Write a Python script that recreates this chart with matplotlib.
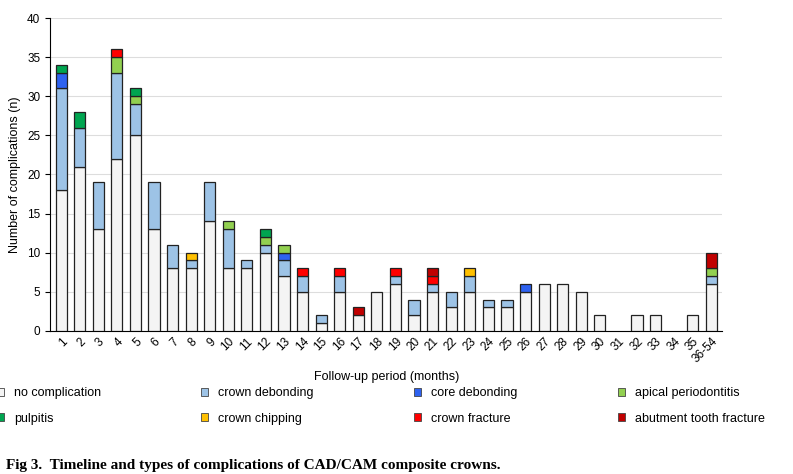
import matplotlib.pyplot as plt
import numpy as np

plt.rcParams['font.family'] = ['Liberation Sans', 'DejaVu Sans']

months = [str(i) for i in range(1, 36)] + ['36-54']
no_comp = [18, 21, 13, 22, 25, 13, 8, 8, 14, 8, 8, 10, 7, 5, 1, 5, 2, 5, 6, 2, 5, 3, 5, 3, 3, 5, 6, 6, 5, 2, 0, 2, 2, 0, 2, 6]
crown_debond = [13, 5, 6, 11, 4, 6, 3, 1, 5, 5, 1, 1, 2, 2, 1, 2, 0, 0, 1, 2, 1, 2, 2, 1, 1, 0, 0, 0, 0, 0, 0, 0, 0, 0, 0, 1]
core_debond = [0] * 36
core_debond[0] = 2; core_debond[12] = 1; core_debond[25] = 1
apical = [0] * 36
apical[3] = 2; apical[4] = 1; apical[9] = 1; apical[11] = 1; apical[12] = 1; apical[35] = 1
pulpitis = [0] * 36
pulpitis[0] = 1; pulpitis[1] = 2; pulpitis[4] = 1; pulpitis[11] = 1
chipping = [0] * 36
chipping[7] = 1; chipping[22] = 1
crown_fracture = [0] * 36
for i in [3, 13, 15, 18, 20]:
    crown_fracture[i] = 1
abutment = [0] * 36
abutment[16] = 1; abutment[20] = 1; abutment[35] = 2

series = [
    ('no complication', no_comp, '#f4f4f4'),
    ('crown debonding', crown_debond, '#9dc3e6'),
    ('core debonding', core_debond, '#2e62f0'),
    ('apical periodontitis', apical, '#92d050'),
    ('pulpitis', pulpitis, '#00a550'),
    ('crown chipping', chipping, '#ffc000'),
    ('crown fracture', crown_fracture, '#ff0000'),
    ('abutment tooth fracture', abutment, '#c00000'),
]

fig = plt.figure(figsize=(7.93, 4.74), dpi=100)
ax = fig.add_axes([0.063, 0.302, 0.848, 0.66])
x = np.arange(len(months))
bottom = np.zeros(len(months))
handles = []
for name, vals, col in series:
    v = np.array(vals, dtype=float)
    m = v > 0
    ax.bar(x[m], v[m], 0.6, bottom=bottom[m], color=col, edgecolor='#222222', linewidth=0.9, zorder=3)
    handles.append(plt.Rectangle((0, 0), 1, 1, facecolor=col, edgecolor='#444444', linewidth=0.6, label=name))
    bottom += v

ax.set_ylim(0, 40)
ax.set_xlim(-0.6, len(months) - 0.4)
ax.set_yticks(range(0, 41, 5))
ax.yaxis.grid(True, color='#dddddd', linewidth=0.8, zorder=0)
ax.set_xticks(x)
ax.set_xticklabels(months, rotation=45, ha='right', rotation_mode='anchor', fontsize=8.5)
ax.tick_params(axis='y', labelsize=8.5)
ax.tick_params(axis='x', length=0)
ax.spines['top'].set_visible(False)
ax.spines['right'].set_visible(False)
ax.set_ylabel('Number of complications (n)', fontsize=9)
ax.set_xlabel('Follow-up period (months)', fontsize=9)

# legend filled row by row: reorder for column-major layout
order = [0, 4, 1, 5, 2, 6, 3, 7]
fig.legend(handles=[handles[i] for i in order], loc='lower center', ncol=4, frameon=False, fontsize=9,
           bbox_to_anchor=(0.48, 0.08), handlelength=0.6, handleheight=0.6,
           columnspacing=8, labelspacing=1.1)

fig.text(0.008, 0.01, 'Fig 3.  Timeline and types of complications of CAD/CAM composite crowns.',
         fontsize=11, fontweight='bold', family='Liberation Serif')
fig.savefig('out.png')
